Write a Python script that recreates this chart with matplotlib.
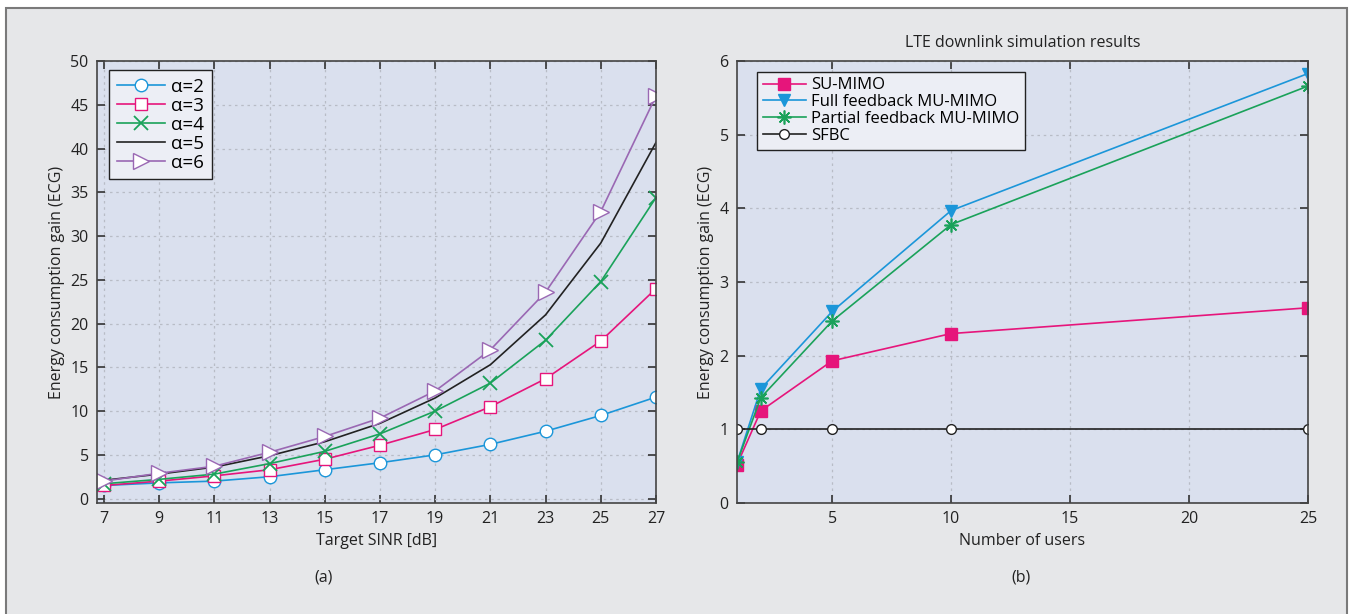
import matplotlib
matplotlib.use("Agg")
import matplotlib.pyplot as plt
from matplotlib.patches import Rectangle

plt.rcParams['font.family'] = ['Open Sans', 'DejaVu Sans']

# (a) energy consumption gain vs target SINR
sinr = [7, 9, 11, 13, 15, 17, 19, 21, 23, 25, 27]
ecg_a2 = [1.5, 1.8, 2.0, 2.5, 3.3, 4.1, 5.0, 6.2, 7.7, 9.5, 11.6]
ecg_a3 = [1.5, 2.0, 2.6, 3.3, 4.5, 6.1, 7.9, 10.5, 13.7, 18.0, 24.0]
ecg_a4 = [1.7, 2.2, 2.8, 4.0, 5.4, 7.4, 10.0, 13.2, 18.1, 24.8, 34.4]
ecg_a5 = [2.1, 2.8, 3.6, 4.9, 6.5, 8.6, 11.5, 15.3, 21.0, 29.2, 40.7]
ecg_a6 = [2.0, 2.9, 3.7, 5.3, 7.1, 9.2, 12.3, 17.0, 23.6, 32.8, 46.0]

# (b) LTE downlink simulation results
users = [1, 2, 5, 10, 25]
su_mimo = [0.52, 1.25, 1.93, 2.30, 2.65]
full_fb = [0.55, 1.55, 2.60, 3.97, 5.83]
partial_fb = [0.55, 1.43, 2.47, 3.78, 5.66]
sfbc = [1, 1, 1, 1, 1]

bg = '#e6e7e9'
axbg = '#dae0ee'
blue = '#1b96d9'
pink = '#e6157b'
green = '#1aa25a'
purple = '#9a68b3'
black = '#222222'

fig = plt.figure(figsize=(13.56, 6.14), dpi=100)
fig.patch.set_facecolor('white')
fig.patches.append(Rectangle((6 / 1356, -0.05), 1341 / 1356, 1 - 8 / 614 + 0.05,
                             transform=fig.transFigure, facecolor=bg,
                             edgecolor='#7a7a7a', linewidth=1.5, zorder=-10))

ax1 = fig.add_axes([97 / 1356, 1 - 503 / 614, 559 / 1356, 442 / 614])
ax2 = fig.add_axes([737 / 1356, 1 - 503 / 614, 571 / 1356, 442 / 614])

for ax in (ax1, ax2):
    ax.set_facecolor(axbg)
    ax.grid(True, linestyle=(0, (2, 3)), color='#b8bcc6', linewidth=0.9)
    ax.tick_params(direction='in', top=True, right=True, length=6,
                   width=1.2, color='#333333', labelsize=11.5, labelcolor='#222222', pad=6)
    for s in ax.spines.values():
        s.set_color('#444444')
        s.set_linewidth(1.2)

ax1.plot(sinr, ecg_a2, '-o', color=blue, mfc='white', mec=blue, ms=9, lw=1.2, label='α=2')
ax1.plot(sinr, ecg_a3, '-s', color=pink, mfc='white', mec=pink, ms=9, lw=1.2, label='α=3')
ax1.plot(sinr, ecg_a4, '-x', color=green, ms=10, mew=1.3, lw=1.2, label='α=4')
ax1.plot(sinr, ecg_a5, '-', color=black, lw=1.2, label='α=5')
ax1.plot(sinr, ecg_a6, '->', color=purple, mfc='white', mec=purple, ms=12, lw=1.2, label='α=6')
ax1.set_xlim(6.75, 27)
ax1.set_ylim(-0.5, 50)
ax1.set_xticks(sinr)
ax1.set_yticks(range(0, 51, 5))
ax1.set_xlabel('Target SINR [dB]', fontsize=11.5, color='#222222')
ax1.set_ylabel('Energy consumption gain (ECG)', fontsize=11.5, color='#222222')
leg1 = ax1.legend(loc='upper left', frameon=True, fancybox=False,
                  handlelength=2.6, handletextpad=0.3, borderpad=0.4,
                  labelspacing=0.05, bbox_to_anchor=(0.005, 1.0),
                  prop={'family': ['Open Sans'], 'size': 13.5})
leg1.get_frame().set_edgecolor('#222222')
leg1.get_frame().set_facecolor('#eceef5')
leg1.get_frame().set_alpha(1)

ax2.plot(users, su_mimo, '-s', color=pink, ms=8, lw=1.2, label='SU-MIMO')
ax2.plot(users, full_fb, '-v', color=blue, ms=8, lw=1.2, label='Full feedback MU-MIMO')
ax2.plot(users, partial_fb, '-', marker=(8, 2, 0), color=green, ms=10, mew=1.2, lw=1.2,
         label='Partial feedback MU-MIMO')
ax2.plot(users, sfbc, '-o', color=black, mfc='white', ms=7, lw=1.2, label='SFBC')
ax2.set_xlim(1, 25)
ax2.set_ylim(0, 6)
ax2.set_xticks([5, 10, 15, 20, 25])
ax2.set_yticks(range(0, 7))
ax2.set_xlabel('Number of users', fontsize=11.5, color='#222222')
ax2.set_ylabel('Energy consumption gain (ECG)', fontsize=11.5, color='#222222')
ax2.set_title('LTE downlink simulation results', fontsize=11.5, color='#222222', pad=10)
leg2 = ax2.legend(loc='upper left', fontsize=12, frameon=True, fancybox=False,
                  handlelength=2.6, handletextpad=0.3, borderpad=0.35,
                  labelspacing=0.05, bbox_to_anchor=(0.02, 0.995))
leg2.get_frame().set_edgecolor('#222222')
leg2.get_frame().set_facecolor('#eceef5')
leg2.get_frame().set_alpha(1)

fig.text(324 / 1356, 1 - 578 / 614, '(a)', ha='center', va='center', fontsize=11.5, color='#222222')
fig.text(1021 / 1356, 1 - 578 / 614, '(b)', ha='center', va='center', fontsize=11.5, color='#222222')

fig.savefig('out.png', dpi=100, facecolor=fig.get_facecolor())
